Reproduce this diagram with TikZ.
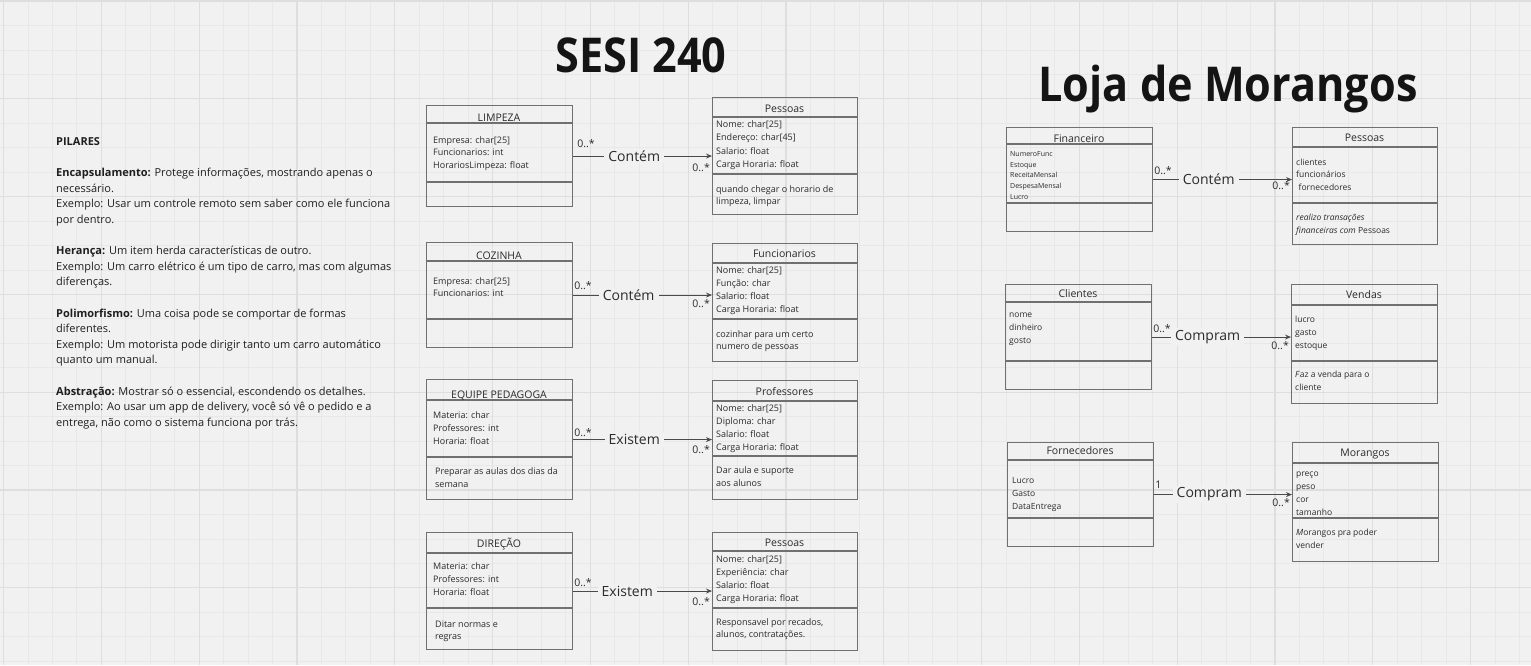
\documentclass[tikz,border=0pt]{standalone}
\usepackage{fontspec}
\setmainfont{Open Sans}
\newfontfamily\titlefont[FakeStretch=0.9]{Open Sans}
\usetikzlibrary{arrows.meta,calc}
\definecolor{bg}{HTML}{F1F1F1}
\definecolor{gridminor}{HTML}{E8E8E8}
\definecolor{gridmajor}{HTML}{DEDEDE}
\definecolor{boxline}{HTML}{707070}
\definecolor{ink}{HTML}{2B2B2B}
\definecolor{conncol}{HTML}{4A4A4A}
\tikzset{
  umlbox/.style={draw=boxline, line width=1.1pt, inner sep=0pt, anchor=north west},
  sepline/.style={draw=boxline, line width=1.1pt},
  ttl/.style={anchor=base, inner sep=0pt, text=ink, font=\fontsize{10.5}{12}\selectfont},
  txt/.style={anchor=base west, inner sep=0pt, text=ink, font=\fontsize{9}{11}\selectfont},
  stxt/.style={anchor=base west, inner sep=0pt, text=ink, font=\fontsize{8.5}{10}\selectfont},
  tiny/.style={anchor=base west, inner sep=0pt, text=ink, font=\fontsize{7}{8}\selectfont},
  ptxt/.style={anchor=base west, inner sep=0pt, text=black!88, font=\fontsize{11}{13}\selectfont},
  conn/.style={draw=conncol, line width=1.1pt, -{Stealth[length=6pt,width=5pt]}},
  lbl/.style={fill=bg, inner xsep=4pt, inner ysep=2pt, text=ink, font=\fontsize{14}{16}\selectfont},
  mult/.style={inner sep=0pt, text=ink, font=\fontsize{10.5}{12}\selectfont},
  bigtitle/.style={anchor=base, inner sep=0pt, text=black!92, font=\titlefont\bfseries\fontsize{48}{56}\selectfont}
}
% box: name, x1, y1, x2, y2, header y, separator y, title, title baseline
\newcommand{\umlclass}[9]{%
  \node[umlbox, minimum width={#4-#2}, minimum height={#5-#3}] (#1) at (#2,#3) {};
  \draw[sepline] (#2,#6) -- (#4,#6);
  \draw[sepline] (#2,#7) -- (#4,#7);
  \node[ttl] (#1T) at ({(#2+#4)/2},#9) {#8};
}
% lines: name prefix, style, x, first baseline, spacing, list
\newcommand{\txtlines}[6]{%
  \foreach \t [count=\i] in {#6} {\node[#2] (#1\i) at (#3,{#4+#5*(\i-1)}) {\t};}
}
\begin{document}
\begin{tikzpicture}[x=1pt,y=-1pt]
\useasboundingbox (0,0) rectangle (1531,665);
\fill[bg] (0,0) rectangle (1531,665);
\foreach \i in {0,...,62} \draw[gridminor, line width=0.8pt] ({3.5+24.45*\i},0) -- ({3.5+24.45*\i},665);
\foreach \i in {0,...,27} \draw[gridminor, line width=0.8pt] (0,{1+24.45*\i}) -- (1531,{1+24.45*\i});
\foreach \i in {0,...,15} \draw[gridmajor, line width=1.2pt] ({3.5+97.8*\i},0) -- ({3.5+97.8*\i},665);
\foreach \i in {0,...,6} \draw[gridmajor, line width=1.2pt] (0,{1+97.8*\i}) -- (1531,{1+97.8*\i});

% titles
\node[bigtitle] (t1) at (641,72) {SESI 240};
\node[bigtitle] (t2) at (1228,101) {Loja de Morangos};

% pilares text
\node[ptxt] (p0) at (56,145.5) {\textbf{PILARES}};
\node[ptxt] (p1) at (56,176.7) {\textbf{Encapsulamento:} Protege informações, mostrando apenas o};
\node[ptxt] (p2) at (56,192.3) {necessário.};
\node[ptxt] (p3) at (56,207.9) {Exemplo: Usar um controle remoto sem saber como ele funciona};
\node[ptxt] (p4) at (56,223.5) {por dentro.};
\node[ptxt] (p5) at (56,254.7) {\textbf{Herança:} Um item herda características de outro.};
\node[ptxt] (p6) at (56,270.3) {Exemplo: Um carro elétrico é um tipo de carro, mas com algumas};
\node[ptxt] (p7) at (56,285.9) {diferenças.};
\node[ptxt] (p8) at (56,317.1) {\textbf{Polimorfismo:} Uma coisa pode se comportar de formas};
\node[ptxt] (p9) at (56,332.7) {diferentes.};
\node[ptxt] (p10) at (56,348.3) {Exemplo: Um motorista pode dirigir tanto um carro automático};
\node[ptxt] (p11) at (56,363.9) {quanto um manual.};
\node[ptxt] (p12) at (56,395.1) {\textbf{Abstração:} Mostrar só o essencial, escondendo os detalhes.};
\node[ptxt] (p13) at (56,410.7) {Exemplo: Ao usar um app de delivery, você só vê o pedido e a};
\node[ptxt] (p14) at (56,426.3) {entrega, não como o sistema funciona por trás.};

% ---------- SESI 240 ----------
\umlclass{limp}{426}{105}{572}{206}{123}{182}{LIMPEZA}{121}
\txtlines{limpA}{txt}{433}{143}{12.7}{Empresa: char[25], Funcionarios: int, HorariosLimpeza: float}

\umlclass{coz}{426}{242}{572}{347}{261}{319}{COZINHA}{259}
\txtlines{cozA}{txt}{433}{284}{12.7}{Empresa: char[25], Funcionarios: int}

\umlclass{equ}{426}{379}{572}{499}{400}{457}{EQUIPE PEDAGOGA}{398}
\txtlines{equA}{txt}{433}{418}{13}{Materia: char, Professores: int, Horaria: float}
\txtlines{equM}{txt}{435}{474}{13}{Preparar as aulas dos dias da, semana}

\umlclass{dir}{426}{532}{572}{649}{553}{608}{DIREÇÃO}{547}
\txtlines{dirA}{txt}{433}{569}{13}{Materia: char, Professores: int, Horaria: float}
\txtlines{dirM}{txt}{435}{627}{12.5}{Ditar normas e, regras}

\umlclass{pesA}{712}{97}{857}{214}{117}{174}{Pessoas}{112}
\txtlines{pesAA}{txt}{716}{127.5}{13.3}{Nome: char[25], Endereço: char[45], Salario: float, Carga Horaria: float}
\txtlines{pesAM}{txt}{716}{192}{12.5}{quando chegar o horario de, {limpeza, limpar}}

\umlclass{fun}{712}{243}{857}{361}{263}{319}{Funcionarios}{257}
\txtlines{funA}{txt}{716}{273}{13.3}{Nome: char[25], Função: char, Salario: float, Carga Horaria: float}
\txtlines{funM}{txt}{716}{337}{12.5}{cozinhar para um certo, numero de pessoas}

\umlclass{prof}{712}{380}{857}{499}{401}{456}{Professores}{395}
\txtlines{profA}{txt}{716}{411}{13.3}{Nome: char[25], Diploma: char, Salario: float, Carga Horaria: float}
\txtlines{profM}{txt}{716}{473}{13}{Dar aula e suporte, aos alunos}

\umlclass{pesB}{712}{532}{857}{650}{551}{608}{Pessoas}{546}
\txtlines{pesBA}{txt}{716}{562}{13.3}{Nome: char[25], Experiência: char, Salario: float, Carga Horaria: float}
\txtlines{pesBM}{txt}{716}{625}{12.5}{{Responsavel por recados,}, {alunos, contratações.}}

% connectors SESI
\draw[conn] (limp.east) -- (limp.east -| pesA.west) node[lbl, pos=0.44] (c1) {Contém};
\node[mult, anchor=base west] (m1a) at ($(limp.east)+(4,-9)$) {0..*};
\node[mult, anchor=base east] (m1b) at ($(limp.east -| pesA.west)+(-2,15)$) {0..*};

\draw[conn] (coz.east) -- (coz.east -| fun.west) node[lbl, pos=0.40] (c2) {Contém};
\node[mult, anchor=base west] (m2a) at ($(coz.east)+(1,-6)$) {0..*};
\node[mult, anchor=base east] (m2b) at ($(coz.east -| fun.west)+(-2,12)$) {0..*};

\draw[conn] (equ.east) -- (equ.east -| prof.west) node[lbl, pos=0.44] (c3) {Existem};
\node[mult, anchor=base west] (m3a) at ($(equ.east)+(1,-3)$) {0..*};
\node[mult, anchor=base east] (m3b) at ($(equ.east -| prof.west)+(-2,14)$) {0..*};

\draw[conn] (dir.east) -- (dir.east -| pesB.west) node[lbl, pos=0.39] (c4) {Existem};
\node[mult, anchor=base west] (m4a) at ($(dir.east)+(1,-5)$) {0..*};
\node[mult, anchor=base east] (m4b) at ($(dir.east -| pesB.west)+(-2,14)$) {0..*};

% ---------- Loja de Morangos ----------
\umlclass{fin}{1006}{127}{1152}{231}{144}{203}{Financeiro}{142}
\txtlines{finA}{tiny}{1010}{156.3}{10.7}{NumeroFunc, Estoque, ReceitaMensal, DespesaMensal, Lucro}

\umlclass{pesC}{1292}{127}{1437}{244}{147}{203}{Pessoas}{141}
\txtlines{pesCA}{stxt}{1296}{165}{12.5}{clientes, funcionários, \hspace{2.5pt}fornecedores}
\node[stxt] (pesCM1) at (1296,220) {\textit{realizo transações}};
\node[stxt] (pesCM2) at (1296,233) {\textit{financeiras com} Pessoas};

\umlclass{cli}{1005}{284}{1151}{389}{302}{361}{Clientes}{297}
\txtlines{cliA}{stxt}{1009}{317}{13}{nome, dinheiro, gosto}

\umlclass{ven}{1291}{284}{1437}{403}{305}{361}{Vendas}{298}
\txtlines{venA}{stxt}{1295}{322}{13}{lucro, gasto, estoque}
\txtlines{venM}{stxt}{1295}{377}{13}{\textit{F}az a venda para o, cliente}

\umlclass{forn}{1007}{442}{1153}{546}{460}{518}{Fornecedores}{454}
\txtlines{fornA}{stxt}{1012}{483}{13.3}{Lucro, Gasto, DataEntrega}

\umlclass{mor}{1292}{442}{1438}{561}{463}{518}{Morangos}{456}
\txtlines{morA}{stxt}{1296}{476}{13}{preço, peso, cor, tamanho}
\txtlines{morM}{stxt}{1296}{535}{13}{\textit{M}orangos pra poder, vender}

% connectors Loja
\draw[conn] (fin.east) -- (fin.east -| pesC.west) node[lbl, pos=0.40] (c5) {Contém};
\node[mult, anchor=base west] (m5a) at ($(fin.east)+(1,-5)$) {0..*};
\node[mult, anchor=base east] (m5b) at ($(fin.east -| pesC.west)+(-2,10)$) {0..*};

\draw[conn] (cli.east) -- (cli.east -| ven.west) node[lbl, pos=0.40] (c6) {Compram};
\node[mult, anchor=base west] (m6a) at ($(cli.east)+(1,-5)$) {0..*};
\node[mult, anchor=base east] (m6b) at ($(cli.east -| ven.west)+(-2,12)$) {0..*};

\draw[conn] (forn.east) -- (forn.east -| mor.west) node[lbl, pos=0.40] (c7) {Compram};
\node[mult, anchor=base west] (m7a) at ($(forn.east)+(1,-6)$) {1};
\node[mult, anchor=base east] (m7b) at ($(forn.east -| mor.west)+(-2,12)$) {0..*};
\end{tikzpicture}
\end{document}
